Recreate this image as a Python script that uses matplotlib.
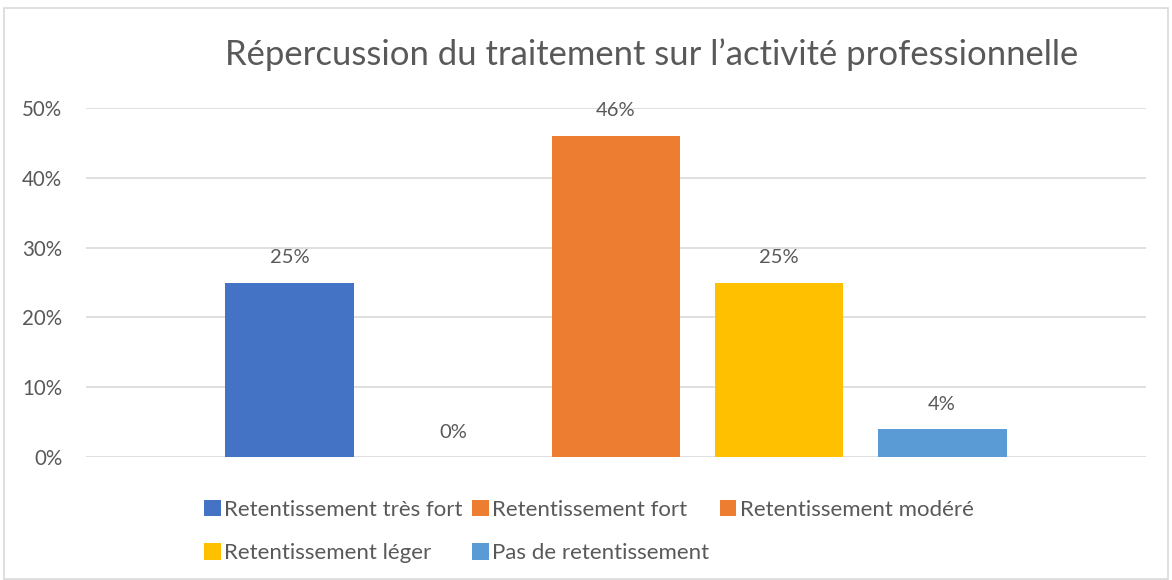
import matplotlib.pyplot as plt
from matplotlib.patches import Patch, Rectangle
from matplotlib.ticker import FuncFormatter

# -----------------------------
# Data
# -----------------------------
categories = [
    "Retentissement très fort",
    "Retentissement fort",
    "Retentissement modéré",
    "Retentissement léger",
    "Pas de retentissement",
]
values = [0.25, 0.0, 0.46, 0.25, 0.04]
colors = ["#4472C4", "#ED7D31", "#ED7D31", "#FFC000", "#5B9BD5"]
title = "Répercussion du traitement sur l’activité professionnelle"

text_color = "#595959"
plt.rcParams["font.family"] = ["Lato", "DejaVu Sans"]

# -----------------------------
# Figure
# -----------------------------
W, H = 1172, 580
fig = plt.figure(figsize=(W / 100, H / 100), dpi=100)
ax = fig.add_axes([86 / W, 1 - 457 / H, (1146 - 86) / W, (457 - 108) / H])

x = list(range(len(values)))
bars = ax.bar(x, values, width=0.79, color=colors, zorder=3)

for xi, v in zip(x, values):
    ax.annotate(f"{v * 100:.0f}%", (xi, v), xytext=(0, 18), textcoords="offset points",
                ha="center", va="center", fontsize=14.5, color=text_color)

ax.set_xlim(-1.25, 5.25)
ax.set_ylim(0, 0.5)
ax.set_yticks([0, 0.1, 0.2, 0.3, 0.4, 0.5])
ax.yaxis.set_major_formatter(FuncFormatter(lambda v, _: f"{v * 100:.0f}%"))
ax.set_xticks([])
ax.tick_params(axis="y", length=0, labelsize=14.8, labelcolor=text_color, pad=17)
ax.grid(axis="y", color="#D9D9D9", linewidth=1.2, zorder=0)
for s in ax.spines.values():
    s.set_visible(False)

fig.text(652 / W, 1 - 55 / H, title, ha="center", va="center",
         fontsize=24.9, color=text_color)

# Legend (Excel fills rows first, matplotlib columns first)
order = [0, 3, 1, 4, 2]
handles = [Patch(facecolor=colors[i], label=categories[i]) for i in order]
fig.legend(handles=handles, ncol=3, loc="upper left",
           bbox_to_anchor=(195 / W, 1 - 491 / H), frameon=False,
           fontsize=16, labelcolor=text_color, handlelength=0.75,
           handleheight=0.75, handletextpad=0.15, columnspacing=0.45,
           labelspacing=1.05, borderaxespad=0)

# Chart border
fig.patches.append(Rectangle((4 / W, 0.002), (1168 - 4) / W, 1 - 8 / H - 0.002,
                             transform=fig.transFigure, fill=False,
                             edgecolor="#D9D9D9", linewidth=1.2))

plt.savefig("out.png", dpi=100)
